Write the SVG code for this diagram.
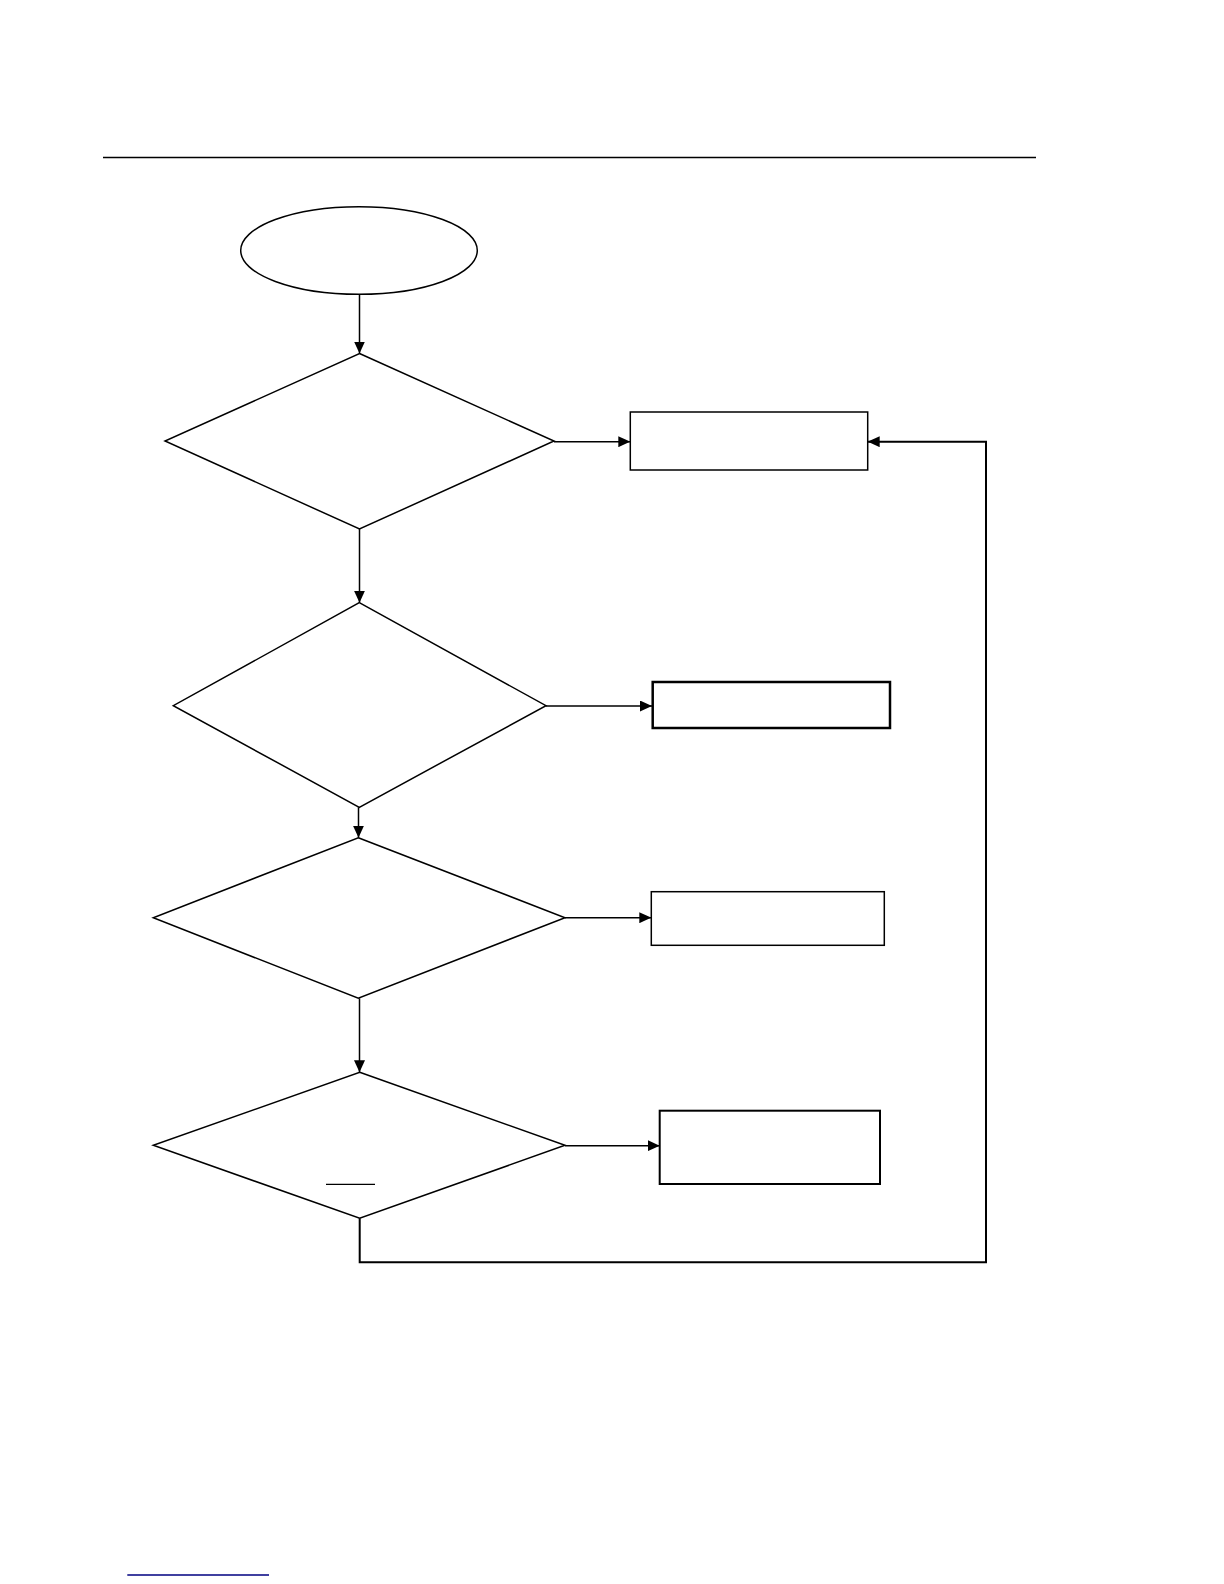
<svg xmlns="http://www.w3.org/2000/svg" width="1224" height="1584" viewBox="0 0 1224 1584">
<style>
.s{fill:#fff;stroke:#000;stroke-width:1.5}
.c{fill:none;stroke:#000;stroke-width:1.5}
</style>
<defs>
<marker id="ah" markerWidth="12" markerHeight="11" refX="12" refY="5.5" orient="auto" markerUnits="userSpaceOnUse">
<path d="M0,0 L12,5.5 L0,11 Z" fill="#000"/>
</marker>
</defs>
<rect width="1224" height="1584" fill="#fff"/>
<line x1="103" y1="157.5" x2="1036" y2="157.5" stroke="#000" stroke-width="1.5"/>
<g id="start"><ellipse class="s" cx="359" cy="250.5" rx="118.3" ry="43.8"/></g>
<g id="d1"><polygon class="s" points="359.5,353.5 554,441 359.5,529 165,441"/></g>
<g id="d2"><polygon class="s" points="359.3,602.7 546,705.7 359.3,807.3 173.3,705.7"/></g>
<g id="d3"><polygon class="s" points="358.3,837.7 565,917.7 358.3,998.3 153.3,917.7"/></g>
<g id="d4"><polygon class="s" points="359.7,1072.3 565,1145.3 359.7,1218.3 153.3,1145.3"/>
<line x1="326" y1="1184.3" x2="375" y2="1184.3" stroke="#000" stroke-width="1.2"/></g>
<g id="r1"><rect class="s" x="630.3" y="412" width="237.4" height="58"/></g>
<g id="r2"><rect class="s" style="stroke-width:2.5" x="652.7" y="682" width="237.3" height="46"/></g>
<g id="r3"><rect class="s" x="651.3" y="891.7" width="233" height="53.6"/></g>
<g id="r4"><rect class="s" style="stroke-width:2" x="659.7" y="1110.7" width="220.3" height="73.3"/></g>
<g id="connectors">
<line class="c" x1="359.5" y1="294.3" x2="359.5" y2="353.5" marker-end="url(#ah)"/>
<line class="c" x1="554" y1="441.7" x2="630.3" y2="441.7" marker-end="url(#ah)"/>
<line class="c" x1="359.5" y1="529" x2="359.5" y2="602.7" marker-end="url(#ah)"/>
<line class="c" x1="546" y1="706" x2="652" y2="706" marker-end="url(#ah)"/>
<line class="c" x1="358.5" y1="807.3" x2="358.5" y2="837.7" marker-end="url(#ah)"/>
<line class="c" x1="565" y1="917.7" x2="651.3" y2="917.7" marker-end="url(#ah)"/>
<line class="c" x1="359.5" y1="998.3" x2="359.5" y2="1072.3" marker-end="url(#ah)"/>
<line class="c" x1="565" y1="1145.7" x2="659.7" y2="1145.7" marker-end="url(#ah)"/>
<polyline class="c" style="stroke-width:2" points="359.7,1218.3 359.7,1262.3 986,1262.3 986,441.7 867.7,441.7" marker-end="url(#ah)"/>
</g>
<line x1="127.3" y1="1575" x2="269" y2="1575" stroke="#000080" stroke-width="1.3"/>
</svg>
